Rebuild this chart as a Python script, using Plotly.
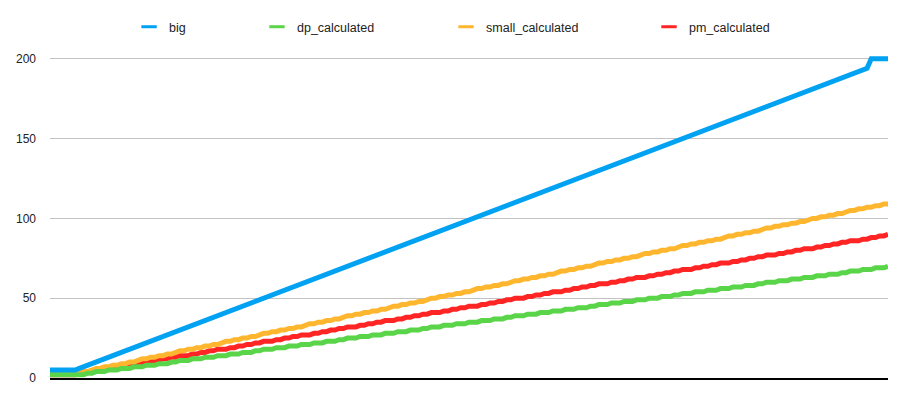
import plotly.graph_objects as go

# category positions along the x axis (no labels shown)
x_index = list(range(201))

big = [
    5, 5, 5, 5, 5, 5, 5, 6, 7, 8, 9, 10, 11, 12, 13, 14, 15, 16, 17, 18,
    19, 20, 21, 22, 23, 24, 25, 26, 27, 28, 29, 30, 31, 32, 33, 34, 35, 36, 37, 38,
    39, 40, 41, 42, 43, 44, 45, 46, 47, 48, 49, 50, 51, 52, 53, 54, 55, 56, 57, 58,
    59, 60, 61, 62, 63, 64, 65, 66, 67, 68, 69, 70, 71, 72, 73, 74, 75, 76, 77, 78,
    79, 80, 81, 82, 83, 84, 85, 86, 87, 88, 89, 90, 91, 92, 93, 94, 95, 96, 97, 98,
    99, 100, 101, 102, 103, 104, 105, 106, 107, 108, 109, 110, 111, 112, 113, 114, 115, 116, 117, 118,
    119, 120, 121, 122, 123, 124, 125, 126, 127, 128, 129, 130, 131, 132, 133, 134, 135, 136, 137, 138,
    139, 140, 141, 142, 143, 144, 145, 146, 147, 148, 149, 150, 151, 152, 153, 154, 155, 156, 157, 158,
    159, 160, 161, 162, 163, 164, 165, 166, 167, 168, 169, 170, 171, 172, 173, 174, 175, 176, 177, 178,
    179, 180, 181, 182, 183, 184, 185, 186, 187, 188, 189, 190, 191, 192, 193, 194,
    200, 200, 200, 200, 200,
]

dp_calculated = [
    2, 2, 2, 2, 2, 2,
    2, 2, 2, 3, 3, 4, 4, 4, 5, 5, 5, 6, 6, 6, 7,
    7, 7, 8, 8, 8, 9, 9, 9, 10, 10, 11, 11, 11, 12, 12, 12, 13, 13, 13, 14,
    14, 14, 15, 15, 15, 16, 16, 16, 17, 17, 18, 18, 18, 19, 19, 19, 20, 20, 20, 21,
    21, 21, 22, 22, 22, 23, 23, 23, 24, 24, 25, 25, 25, 26, 26, 26, 27, 27, 27, 28,
    28, 28, 29, 29, 29, 30, 30, 30, 31, 31, 32, 32, 32, 33, 33, 33, 34, 34, 34, 35,
    35, 35, 36, 36, 36, 37, 37, 37, 38, 38, 39, 39, 39, 40, 40, 40, 41, 41, 41, 42,
    42, 42, 43, 43, 43, 44, 44, 44, 45, 45, 46, 46, 46, 47, 47, 47, 48, 48, 48, 49,
    49, 49, 50, 50, 50, 51, 51, 51, 52, 52, 53, 53, 53, 54, 54, 54, 55, 55, 55, 56,
    56, 56, 57, 57, 57, 58, 58, 58, 59, 59, 60, 60, 60, 61, 61, 61, 62, 62, 62, 63,
    63, 63, 64, 64, 64, 65, 65, 65, 66, 66, 67, 67, 67, 68, 68, 68, 69, 69, 69, 70,
]

small_calculated = [
    3, 3, 3, 3, 3, 3,
    3, 3, 4, 4, 5, 6, 6, 7, 7, 8, 8, 9, 9, 10, 10,
    11, 12, 12, 13, 13, 14, 14, 15, 15, 16, 17, 17, 18, 18, 19, 19, 20, 20, 21, 21,
    22, 23, 23, 24, 24, 25, 25, 26, 26, 27, 28, 28, 29, 29, 30, 30, 31, 31, 32, 32,
    33, 34, 34, 35, 35, 36, 36, 37, 37, 38, 39, 39, 40, 40, 41, 41, 42, 42, 43, 43,
    44, 45, 45, 46, 46, 47, 47, 48, 48, 49, 50, 50, 51, 51, 52, 52, 53, 53, 54, 54,
    55, 56, 56, 57, 57, 58, 58, 59, 59, 60, 61, 61, 62, 62, 63, 63, 64, 64, 65, 65,
    66, 67, 67, 68, 68, 69, 69, 70, 70, 71, 72, 72, 73, 73, 74, 74, 75, 75, 76, 76,
    77, 78, 78, 79, 79, 80, 80, 81, 81, 82, 83, 83, 84, 84, 85, 85, 86, 86, 87, 87,
    88, 89, 89, 90, 90, 91, 91, 92, 92, 93, 94, 94, 95, 95, 96, 96, 97, 97, 98, 98,
    99, 100, 100, 101, 101, 102, 102, 103, 103, 104, 105, 105, 106, 106, 107, 107, 108, 108, 109, 109,
]

pm_calculated = [
    2, 2, 2, 2, 2, 2,
    2, 3, 3, 4, 4, 5, 5, 5, 6, 6, 7, 7, 8, 8, 9,
    9, 9, 10, 10, 11, 11, 12, 12, 13, 13, 14, 14, 14, 15, 15, 16, 16, 17, 17, 18,
    18, 18, 19, 19, 20, 20, 21, 21, 22, 22, 23, 23, 23, 24, 24, 25, 25, 26, 26, 27,
    27, 27, 28, 28, 29, 29, 30, 30, 31, 31, 32, 32, 32, 33, 33, 34, 34, 35, 35, 36,
    36, 36, 37, 37, 38, 38, 39, 39, 40, 40, 41, 41, 41, 42, 42, 43, 43, 44, 44, 45,
    45, 45, 46, 46, 47, 47, 48, 48, 49, 49, 50, 50, 50, 51, 51, 52, 52, 53, 53, 54,
    54, 54, 55, 55, 56, 56, 57, 57, 58, 58, 59, 59, 59, 60, 60, 61, 61, 62, 62, 63,
    63, 63, 64, 64, 65, 65, 66, 66, 67, 67, 68, 68, 68, 69, 69, 70, 70, 71, 71, 72,
    72, 72, 73, 73, 74, 74, 75, 75, 76, 76, 77, 77, 77, 78, 78, 79, 79, 80, 80, 81,
    81, 81, 82, 82, 83, 83, 84, 84, 85, 85, 86, 86, 86, 87, 87, 88, 88, 89, 89, 90,
]

y_ticks = [0, 50, 100, 150, 200]

FONT = "Liberation Sans, Arial, Helvetica, sans-serif"

series = [
    ("big", big, "#02A2F2", "legend"),
    ("dp_calculated", dp_calculated, "#5AD448", "legend2"),
    ("small_calculated", small_calculated, "#FFB62F", "legend3"),
    ("pm_calculated", pm_calculated, "#FF2525", "legend4"),
]

fig = go.Figure()

# draw last series first so "big" ends up on top
for name, values, color, leg in reversed(series):
    fig.add_trace(go.Scatter(
        x=x_index, y=values, name=name, mode="lines",
        line=dict(color=color, width=5),
        showlegend=False, hoverinfo="name+y",
    ))

# legend entries with short dash symbols
for name, values, color, leg in series:
    fig.add_trace(go.Scatter(
        x=[None], y=[None], name=name, mode="markers",
        marker=dict(symbol="line-ew", size=11, color=color,
                    line=dict(color=color, width=3)),
        legend=leg,
    ))

legend_x = {"legend": 0.0943, "legend2": 0.2470, "legend3": 0.4726, "legend4": 0.7148}
for leg, xpos in legend_x.items():
    fig.update_layout({leg: dict(
        x=xpos, y=1.083, xanchor="left", yanchor="middle",
        orientation="h", bgcolor="rgba(0,0,0,0)",
        font=dict(family=FONT, size=12.5, color="#222222"),
    )})

fig.update_xaxes(
    range=[0, 200], showgrid=False, showticklabels=False, zeroline=False,
    showline=True, linecolor="#000000", linewidth=1.5, ticks="",
)
fig.update_yaxes(
    range=[0, 203], tickvals=y_ticks, showgrid=True, gridcolor="#c2c2c2",
    gridwidth=1, zeroline=False, showline=False, ticks="",
    ticklabelstandoff=13,
    tickfont=dict(family=FONT, size=12, color="#222222"),
)

# page body has an 8px margin, so the figure is a bit smaller than the window
fig.update_layout(
    width=910, height=401,
    margin=dict(l=42, r=30, t=46, b=31, autoexpand=False),
    plot_bgcolor="white", paper_bgcolor="white",
    font=dict(family=FONT),
)

fig.write_html("out.html")
